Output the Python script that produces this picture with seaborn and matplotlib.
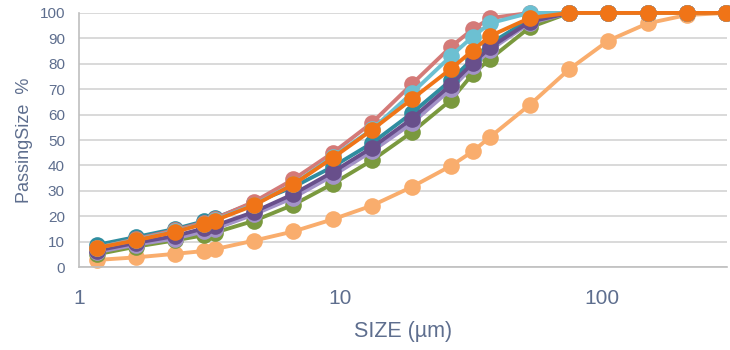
import numpy as np
import pandas as pd
import matplotlib
matplotlib.use("Agg")
import matplotlib.pyplot as plt
from matplotlib.ticker import LogLocator, NullFormatter
import seaborn as sns

# Particle size classes (µm)
sizes = [1.17, 1.65, 2.33, 3.0, 3.3, 4.67, 6.6, 9.35, 13.2, 18.7, 26.4,
         32.0, 37.4, 52.8, 74.7, 105.5, 149.0, 211.0, 298.0]

# Cumulative passing (%) per sample
light_orange = [2.8, 3.8, 5.2, 6.3, 7.0, 10.4, 14.0, 18.8, 24.2, 31.5, 39.8,
                45.5, 51.3, 63.8, 77.8, 89.1, 95.9, 99.2, 100]
green = [5.0, 8.0, 10.5, 12.5, 13.5, 18.2, 24.5, 32.8, 42.0, 53.0, 65.7,
         76.0, 82.0, 94.3, 100, 100, 100, 100, 100]
light_purple = [5.8, 8.8, 11.2, 14.0, 15.0, 20.7, 27.3, 36.0, 45.6, 56.5, 70.0,
                79.0, 85.5, 96.0, 100, 100, 100, 100, 100]
dark_teal = [8.7, 11.8, 15.0, 18.0, 19.2, 25.3, 31.5, 39.5, 48.8, 60.5, 73.5,
             82.0, 88.0, 97.5, 100, 100, 100, 100, 100]
dark_purple = [6.5, 9.5, 12.2, 15.2, 16.2, 21.7, 28.7, 37.4, 47.0, 58.3, 71.7,
               80.2, 86.5, 96.5, 100, 100, 100, 100, 100]
pink = [7.5, 11.0, 14.5, 17.5, 19.0, 25.7, 34.5, 45.0, 56.8, 71.9, 86.7,
        93.6, 98.0, 100, 100, 100, 100, 100, 100]
light_blue = [7.6, 10.7, 14.0, 17.1, 18.5, 24.6, 32.6, 43.5, 54.2, 68.4, 83.0,
              90.7, 96.0, 100, 100, 100, 100, 100, 100]
orange = [7.5, 10.5, 13.8, 17.0, 18.3, 24.3, 32.5, 43.0, 54.0, 66.0, 78.0,
          85.2, 91.0, 98.0, 100, 100, 100, 100, 100]

# Drawing order: first entry ends up at the back
series = {
    "light_orange": light_orange,
    "green": green,
    "light_purple": light_purple,
    "dark_teal": dark_teal,
    "dark_purple": dark_purple,
    "pink": pink,
    "light_blue": light_blue,
    "orange": orange,
}
palette = {
    "light_orange": "#F9AD6D",
    "green": "#7A993E",
    "light_purple": "#A393C8",
    "dark_teal": "#2F8DA0",
    "dark_purple": "#684F8B",
    "pink": "#D47A78",
    "light_blue": "#6CC0D2",
    "orange": "#F07417",
}

df = pd.concat(
    [pd.DataFrame({"size": sizes, "passing": vals, "sample": name})
     for name, vals in series.items()],
    ignore_index=True,
)

sns.set_style("white")
plt.rcParams["font.family"] = ["Liberation Sans", "DejaVu Sans"]
text_col = "#5E6E8E"

fig = plt.figure(figsize=(7.3, 3.5), dpi=100)
ax = fig.add_axes([0.108, 0.237, 0.888, 0.726])

sns.lineplot(data=df, x="size", y="passing", hue="sample",
             hue_order=list(series.keys()), palette=palette,
             marker="o", markersize=12, markeredgewidth=0, linewidth=2.8,
             sort=False, estimator=None, legend=False, ax=ax)

for ln in ax.lines:
    ln.set_clip_on(False)

ax.set_xscale("log")
ax.set_xlim(1, 300)
ax.set_ylim(0, 100)
ax.set_yticks(np.arange(0, 101, 10))
ax.set_xticks([1, 10, 100])
ax.set_xticklabels(["1", "10", "100"])
ax.xaxis.set_minor_locator(LogLocator(base=10, subs=np.arange(2, 10)))
ax.xaxis.set_minor_formatter(NullFormatter())

ax.grid(axis="y", color="#D9D9D9", linewidth=1.4)
ax.grid(axis="x", visible=False)
ax.set_axisbelow(True)

for side in ["top", "right"]:
    ax.spines[side].set_visible(False)
for side in ["left", "bottom"]:
    ax.spines[side].set_color("#BFBFBF")
    ax.spines[side].set_linewidth(1.2)

ax.tick_params(axis="x", which="both", direction="out", length=4.5,
               width=1.1, color="#BFBFBF", colors=text_col)
ax.tick_params(axis="x", which="major", labelsize=15, pad=11)
ax.tick_params(axis="y", length=0, labelsize=11, labelcolor=text_col, pad=10)

ax.set_xlabel("SIZE (µm)", fontsize=15.5, color=text_col, labelpad=10)
ax.set_ylabel("PassingSize  %", fontsize=13, color=text_col, labelpad=5)

fig.savefig("out.png", dpi=100)
